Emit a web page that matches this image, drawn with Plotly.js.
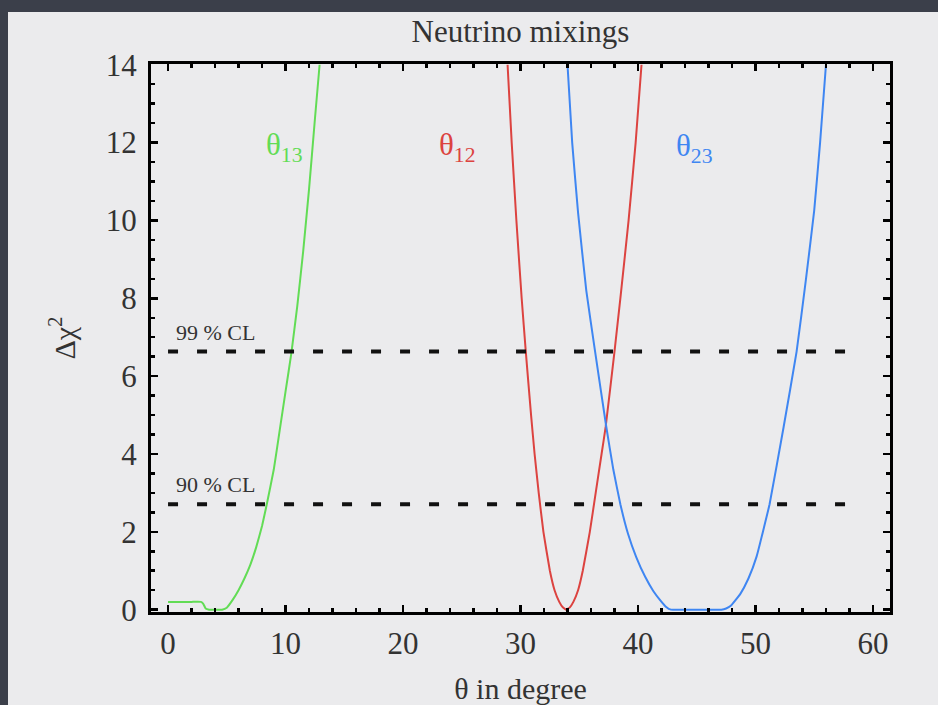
<!DOCTYPE html>
<html>
<head>
<meta charset="utf-8">
<script src="https://cdn.plot.ly/plotly-3.0.1.min.js"></script>
<style>
  html, body { margin: 0; padding: 0; background: #3b3f4a; width: 938px; height: 705px; overflow: hidden; }
  #chart { position: absolute; left: 8px; top: 12px; width: 930px; height: 693px; }
</style>
</head>
<body>
<div id="chart"></div>
<script>
// theta13 (green)
const th13X = [0, 1, 2, 2.8, 3.0, 3.2, 3.5, 4.0, 4.6, 5.0, 5.5, 6.0, 6.5, 7.0, 7.5, 8.0, 8.4, 9.0, 9.5, 10.0, 10.5, 11.0, 11.5, 12.0, 12.5, 12.9];
const th13Y = [0.2, 0.2, 0.2, 0.2, 0.15, 0.03, 0, 0, 0, 0.05, 0.25, 0.5, 0.8, 1.15, 1.6, 2.15, 2.7, 3.6, 4.6, 5.6, 6.6, 7.8, 9.2, 10.8, 12.6, 14];
// theta12 (red)
const th12X = [28.9, 29.25, 29.65, 30.1, 30.45, 30.9, 31.2, 31.55, 31.95, 32.5, 32.9, 33.3, 33.6, 33.9, 34.2, 34.5, 34.9, 35.3, 35.9, 36.4, 36.9, 37.25, 38.0, 38.5, 39.2, 39.8, 40.3];
const th12Y = [14, 12, 10, 8, 6.63, 5, 4, 3, 2, 1, 0.5, 0.2, 0.06, 0, 0.06, 0.2, 0.5, 1, 2, 3, 4, 4.7, 6.63, 8, 10, 12, 14];
// theta23 (blue)
const th23X = [34.0, 34.4, 34.9, 35.6, 36.35, 37.3, 37.9, 38.5, 39.15, 39.85, 40.6, 41.3, 41.9, 42.4, 42.8, 45.0, 47.1, 47.5, 47.9, 48.7, 49.4, 50.1, 51.2, 52.4, 53.5, 54.3, 55.0, 55.5, 56.0];
const th23Y = [14, 12, 10.2, 8.2, 6.63, 4.7, 3.6, 2.71, 1.95, 1.35, 0.85, 0.48, 0.24, 0.07, 0, 0, 0, 0.03, 0.1, 0.4, 0.8, 1.37, 2.71, 4.7, 6.63, 8.5, 10.26, 12, 14];
// confidence levels
const clLevels = [2.71, 6.63];
const clLabels = ['90 % CL', '99 % CL'];
const clRange = [0, 58.7];
const curveLabels = ['θ<sub>13</sub>', 'θ<sub>12</sub>', 'θ<sub>23</sub>'];
const curveLabelPos = [[9.9, 11.9], [24.6, 11.9], [44.8, 11.85]];
const colors = ['#62dc55', '#dc4340', '#3f86f2'];

const serif = 'Liberation Serif, Times New Roman, serif';

const traces = [
  {x: th13X, y: th13Y, color: colors[0]},
  {x: th12X, y: th12Y, color: colors[1]},
  {x: th23X, y: th23Y, color: colors[2]}
].map(t => ({
  x: t.x, y: t.y, type: 'scatter', mode: 'lines',
  line: {color: t.color, width: 2, shape: 'spline', smoothing: 0.3},
  hoverinfo: 'skip', showlegend: false, cliponaxis: true
}));

const shapes = clLevels.map(v => ({
  type: 'line', xref: 'x', yref: 'y', x0: clRange[0], x1: clRange[1], y0: v, y1: v,
  line: {color: '#111', width: 4, dash: '10px,19px'}
}));

const annotations = clLevels.map((v, i) => ({
  x: 0.5, y: v + 0.5, xref: 'x', yref: 'y', text: clLabels[i], showarrow: false,
  xanchor: 'left', yanchor: 'middle', font: {family: serif, size: 22, color: '#333'}
})).concat(curveLabels.map((t, i) => ({
  x: curveLabelPos[i][0], y: curveLabelPos[i][1], xref: 'x', yref: 'y', text: t, showarrow: false,
  xanchor: 'center', yanchor: 'middle', font: {family: serif, size: 31, color: colors[i]}
})));

const axisCommon = {
  showgrid: false, zeroline: false, showline: true, linecolor: '#000', linewidth: 3,
  mirror: 'allticks', ticks: 'inside', ticklen: 7, tickwidth: 2.5, tickcolor: '#000',
  tickfont: {family: serif, size: 31, color: '#333'}
};

const layout = {
  width: 930, height: 693,
  margin: {l: 143, r: 48, t: 52, b: 93},
  paper_bgcolor: '#ebebed', plot_bgcolor: '#ebebed',
  title: {text: 'Neutrino mixings', font: {family: serif, size: 31, color: '#333'},
          x: 0.5, xref: 'paper', y: 0.972, yref: 'container', yanchor: 'middle'},
  xaxis: Object.assign({}, axisCommon, {
    range: [-1.45, 61.45], dtick: 10, tick0: 0, ticklabelstandoff: 2,
    minor: {dtick: 2, ticks: 'inside', ticklen: 4, tickwidth: 2.5, tickcolor: '#000', showgrid: false},
    title: {text: 'θ in degree', font: {family: serif, size: 30, color: '#333'}, standoff: 20}
  }),
  yaxis: Object.assign({}, axisCommon, {
    range: [-0.06, 14.02], dtick: 2, tick0: 0, ticklabelstandoff: 5,
    minor: {dtick: 0.5, ticks: 'inside', ticklen: 4, tickwidth: 2.5, tickcolor: '#000', showgrid: false},
    title: {text: 'Δχ<sup>2</sup>', font: {family: serif, size: 30, color: '#333'}, standoff: 22}
  }),
  shapes: shapes,
  annotations: annotations
};

Plotly.newPlot('chart', traces, layout, {displayModeBar: false, staticPlot: true});
</script>
</body>
</html>
